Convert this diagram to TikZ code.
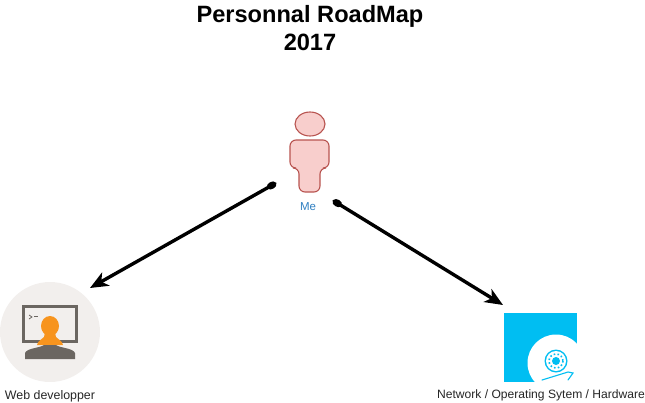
\documentclass[tikz,border=0pt]{standalone}
\usepackage{fontspec}
\setmainfont{Liberation Sans}
\usetikzlibrary{arrows.meta}
\definecolor{skin}{HTML}{F8CECC}
\definecolor{skinline}{HTML}{B85450}
\definecolor{melabel}{HTML}{2F7FC1}
\definecolor{disc}{HTML}{F2EFED}
\definecolor{screen}{HTML}{6B6661}
\definecolor{hair}{HTML}{F7941E}
\definecolor{drive}{HTML}{00BEF2}
\tikzset{
  title/.style={font=\bfseries\fontsize{23.6}{28}\selectfont, align=center},
  caption/.style={font=\fontsize{12.4}{14}\selectfont, text=black!85},
  link/.style={line width=3.4pt, {Circle[length=10pt,width=7pt]}-{Stealth[length=18pt,width=15pt,inset=5pt]}}
}
\begin{document}
\begin{tikzpicture}[x=1pt, y=-1pt]
  \useasboundingbox (0,0) rectangle (645,402);
  \node[title] (heading) at (310,28) {Personnal RoadMap\\2017};
  \draw[skinline, fill=skin, line width=1.1pt] (310,124) ellipse (15 and 12);
  \draw[skinline, fill=skin, line width=1.1pt, rounded corners=6pt]
    (290,140) -- (329,140) -- (329,168) -- (320,168) -- (320,192) -- (299,192) -- (299,168) -- (290,168) -- cycle;
  \node[font=\fontsize{11.5}{13}\selectfont, text=melabel] (me) at (308,207) {Me};

  \fill[disc] (50,332) circle (50);
  \fill[screen] (22,305) rectangle (78,343);
  \fill[disc] (25,308) rectangle (75,340);
  \fill[hair] (50,326) ellipse (9 and 10);
  \fill[hair] (45,332) -- (55,332) -- (56,337) .. controls (58,340) and (62,340) .. (63,345) -- (37,345) .. controls (38,340) and (42,340) .. (44,337) -- cycle;
  \fill[screen] (25,359) -- (25,353) .. controls (27,348) and (40,348) .. (44,345) -- (56,345) .. controls (60,348) and (73,348) .. (75,353) -- (75,359) -- cycle;
  \draw[screen, line width=0.8pt] (29,315) -- (32,317) -- (29,319);
  \draw[screen, line width=0.8pt] (34,316.5) -- (38,316.5);
  \node[caption] (web) at (50,396) {Web developper};

  \fill[drive] (504,313) rectangle (577,382);
  \begin{scope}
    \clip (504,313) rectangle (577,382);
    \fill[white] (556,363) circle (28.5);
  \end{scope}
  \fill[drive] (556,361) circle (11.5);
  \fill[white] (556,361) circle (10);
  \draw[drive, line width=1.6pt, dash pattern=on 1.6pt off 2.2pt] (556,361) circle (7);
  \fill[drive] (556,361) circle (4);
  \draw[drive, line width=1.1pt, line cap=round] (542,380) -- (568,372) -- (573,373) -- (568,380);
  \node[caption, font=\fontsize{12.1}{14}\selectfont] (net) at (541,395) {Network / Operating Sytem / Hardware};

  \coordinate (meleft) at (276,183);
  \coordinate (meright) at (333,200.5);
  \coordinate (webend) at (90,288);
  \coordinate (netend) at (503,305);
  \draw[link] (meleft) -- (webend);
  \draw[link] (meright) -- (netend);
\end{tikzpicture}
\end{document}
